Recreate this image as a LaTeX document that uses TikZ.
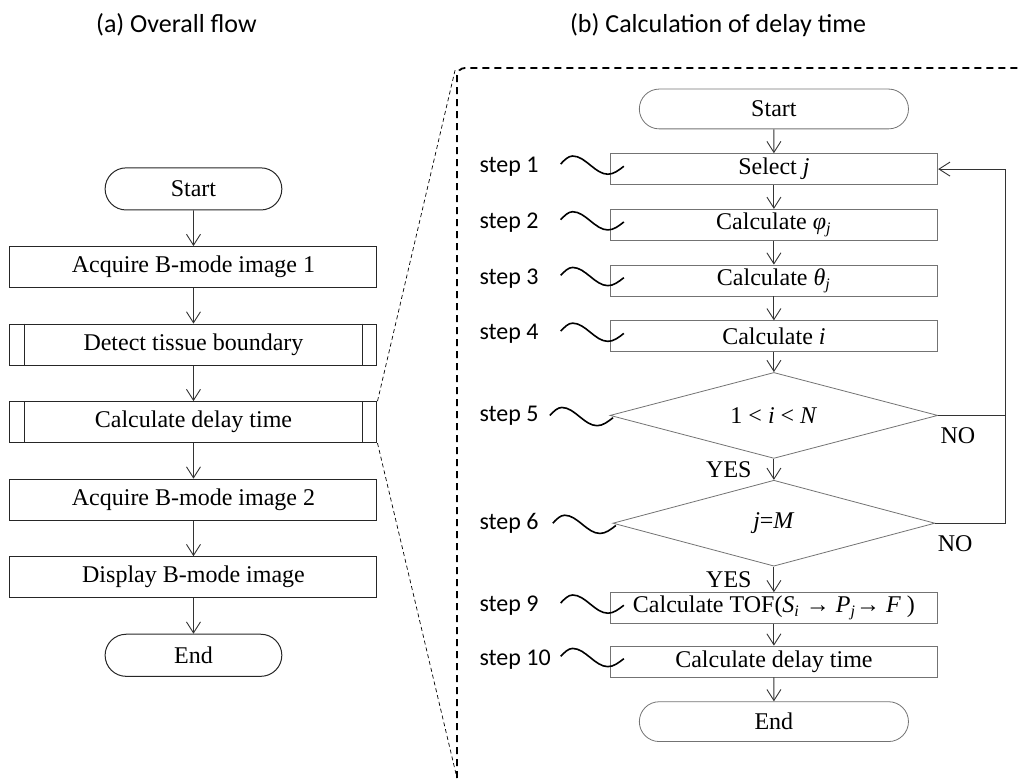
\documentclass[tikz,border=0pt]{standalone}
\usepackage{fontspec}
\setmainfont{Liberation Serif}
\newfontfamily\labelfont{Carlito}
\usetikzlibrary{arrows.meta,positioning,shapes.geometric,shapes.misc}

\begin{document}
\begin{tikzpicture}[
  node distance=0.42cm,
  font=\fontsize{12pt}{14pt}\selectfont,
  block/.style={draw=black!85, line width=0.5pt, minimum width=6.45cm, minimum height=0.72cm, inner sep=2pt},
  term/.style={draw=black!85, line width=0.5pt, rounded rectangle, minimum width=3.34cm, minimum height=0.74cm},
  sblock/.style={draw=black!55, line width=0.4pt, minimum width=5.76cm, minimum height=0.545cm, inner sep=1pt},
  sterm/.style={sblock, rounded rectangle, minimum width=4.8cm, minimum height=0.70cm},
  decision/.style={draw=black!55, line width=0.4pt, diamond, aspect=3.8, minimum height=1.51cm, inner sep=0pt},
  conn/.style={draw=black!80, line width=0.45pt},
  line/.style={conn, -{Straight Barb[length=5.5pt,width=7pt]}},
  zoomline/.style={dashed, dash pattern=on 2pt off 1.5pt, line width=0.35pt},
  frame/.style={dash pattern=on 3.5pt off 2.5pt, line width=0.9pt, rounded corners=0.14cm},
  wave/.style={line width=0.8pt},
  head/.style={font=\labelfont\fontsize{13pt}{15pt}\selectfont},
  steplab/.style={font=\labelfont\fontsize{12pt}{14pt}\selectfont, anchor=west, inner sep=0pt},
  lab/.style={inner sep=1pt}
]
\useasboundingbox (0,0) rectangle (17.96,-13.71);

\node[head] (ta) at (3.10,-0.44) {(a) Overall flow};
\node[head] (tb) at (12.62,-0.44) {(b) Calculation of delay time};

% (a) overall flow
\node[term] (start1) at (3.40,-3.32) {Start};
\node[block, below=0.625cm of start1] (acq1) {Acquire B-mode image 1};
\node[block, below=0.625cm of acq1] (detect) {Detect tissue boundary};
\node[block, below=0.625cm of detect] (calc) {Calculate delay time};
\node[block, below=0.625cm of calc] (acq2) {Acquire B-mode image 2};
\node[block, below=0.625cm of acq2] (disp) {Display B-mode image};
\node[term, below=0.625cm of disp] (end1) {End};

\draw[draw=black!85, line width=0.5pt]
  ([xshift=0.26cm]detect.north west) -- ([xshift=0.26cm]detect.south west)
  ([xshift=-0.26cm]detect.north east) -- ([xshift=-0.26cm]detect.south east)
  ([xshift=0.26cm]calc.north west) -- ([xshift=0.26cm]calc.south west)
  ([xshift=-0.26cm]calc.north east) -- ([xshift=-0.26cm]calc.south east);

\draw[line] (start1) -- (acq1);
\draw[line] (acq1) -- (detect);
\draw[line] (detect) -- (calc);
\draw[line] (calc) -- (acq2);
\draw[line] (acq2) -- (disp);
\draw[line] (disp) -- (end1);

% (b) calculation of delay time
\draw[frame] (18.3,-1.195) -- (8.03,-1.195) -- (8.03,-13.80) -- (8.6,-13.80);
\coordinate (ftop) at (8.00,-1.22);
\coordinate (fbot) at (8.03,-13.67);
\draw[zoomline] (calc.north east) -- (ftop);
\draw[zoomline] (calc.south east) -- (fbot);

\node[sterm] (start2) at (13.60,-1.915) {Start};
\node[sblock, below=of start2] (sel) {Select \textit{j}};
\node[sblock, below=of sel] (phi) {Calculate \textit{φ}\textsubscript{\textit{j}}};
\node[sblock, below=of phi] (theta) {Calculate \textit{θ}\textsubscript{\textit{j}}};
\node[sblock, below=of theta] (findi) {Calculate \textit{i}};
\node[decision, minimum width=5.76cm, below=0.35cm of findi] (range) {1 < \textit{i} < \textit{N}};
\node[decision, minimum width=5.66cm, below=0.37cm of range] (last) {\textit{j}=\textit{M}};
\node[sblock, below=0.45cm of last] (tof) {Calculate TOF(\textit{S}\textsubscript{\textit{i}} → \textit{P}\textsubscript{\textit{j}}→ \textit{F} )};
\node[sblock, below=0.38cm of tof] (delay) {Calculate delay time};
\node[sterm, below=of delay] (end2) {End};

\draw[line] (start2) -- (sel);
\draw[line] (sel) -- (phi);
\draw[line] (phi) -- (theta);
\draw[line] (theta) -- (findi);
\draw[line] (findi) -- (range);
\draw[line] (range) -- node[lab, left=0.35cm] {YES} (last);
\draw[line] (last) -- node[lab, left=0.35cm] {YES} (tof);
\draw[line] (tof) -- (delay);
\draw[line] (delay) -- (end2);

\coordinate (loop) at ([xshift=1.19cm]sel.east);
\draw[line] (range.east) -| (loop) -- (sel.east);
\draw[conn] (last.east) -| (range.east -| loop);
\node[lab, anchor=north west] (no1) at ([yshift=-0.17cm]range.east) {NO};
\node[lab, anchor=north west] (no2) at ([yshift=-0.17cm]last.east) {NO};

% step labels
\coordinate (lx) at (8.42,0);
\node[steplab, yshift=0.04cm] (st1) at (lx |- sel.west) {step 1};
\node[steplab, yshift=0.04cm] (st2) at (lx |- phi.west) {step 2};
\node[steplab, yshift=0.04cm] (st3) at (lx |- theta.west) {step 3};
\node[steplab, yshift=0.04cm] (st4) at (lx |- findi.west) {step 4};
\node[steplab] (st5) at (lx |- range.west) {step 5};
\node[steplab] (st6) at (lx |- last.west) {step 6};
\node[steplab, yshift=0.04cm] (st9) at (lx |- tof.west) {step 9};
\node[steplab, yshift=0.04cm] (st10) at (lx |- delay.west) {step 10};

\draw[wave] ([xshift=-0.86cm,yshift=0.09cm]sel.west) sin ++(0.21,0.14) cos ++(0.31,-0.16) sin ++(0.31,-0.16) cos ++(0.28,0.14);
\draw[wave] ([xshift=-0.86cm,yshift=0.09cm]phi.west) sin ++(0.21,0.14) cos ++(0.31,-0.16) sin ++(0.31,-0.16) cos ++(0.28,0.14);
\draw[wave] ([xshift=-0.86cm,yshift=0.09cm]theta.west) sin ++(0.21,0.14) cos ++(0.31,-0.16) sin ++(0.31,-0.16) cos ++(0.28,0.14);
\draw[wave] ([xshift=-0.86cm,yshift=0.09cm]findi.west) sin ++(0.21,0.14) cos ++(0.31,-0.16) sin ++(0.31,-0.16) cos ++(0.28,0.14);
\draw[wave] ([xshift=-1.05cm]range.west) sin ++(0.21,0.14) cos ++(0.31,-0.16) sin ++(0.31,-0.16) cos ++(0.28,0.14);
\draw[wave] ([xshift=-1.05cm]last.west) sin ++(0.21,0.14) cos ++(0.31,-0.16) sin ++(0.31,-0.16) cos ++(0.28,0.14);
\draw[wave] ([xshift=-0.86cm,yshift=0.09cm]tof.west) sin ++(0.21,0.14) cos ++(0.31,-0.16) sin ++(0.31,-0.16) cos ++(0.28,0.14);
\draw[wave] ([xshift=-0.86cm,yshift=0.09cm]delay.west) sin ++(0.21,0.14) cos ++(0.31,-0.16) sin ++(0.31,-0.16) cos ++(0.28,0.14);
\end{tikzpicture}
\end{document}
